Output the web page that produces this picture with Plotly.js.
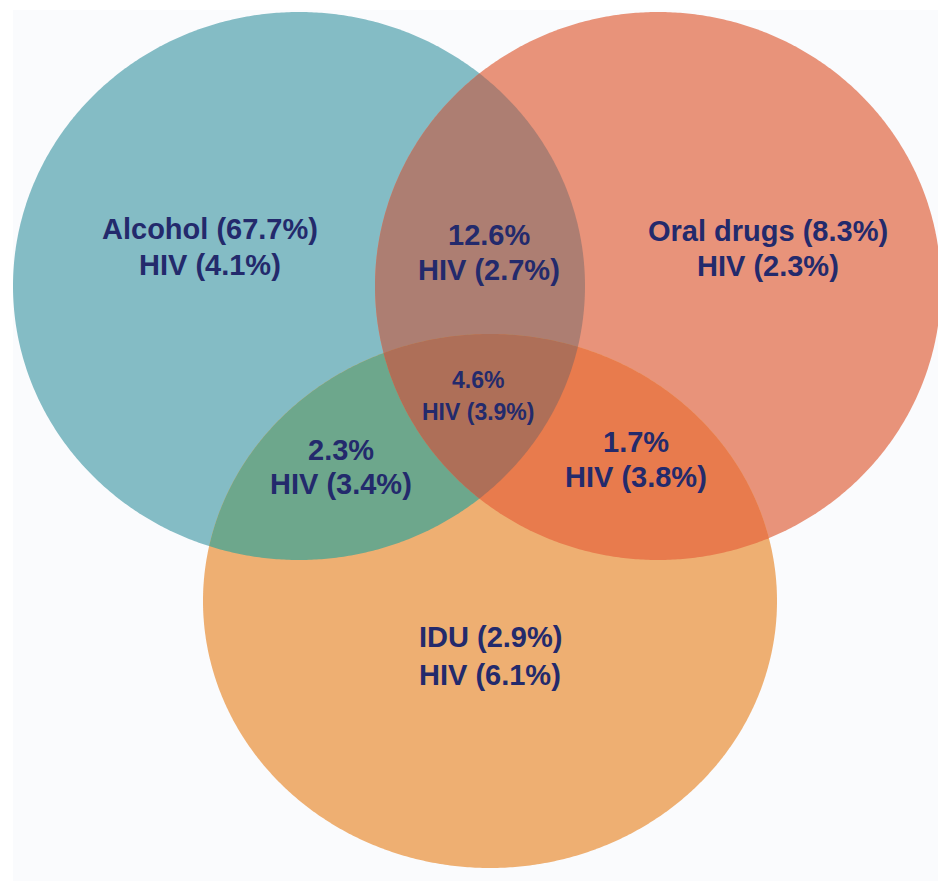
<!DOCTYPE html>
<html>
<head>
<meta charset="utf-8">
<script src="https://cdn.plot.ly/plotly-3.0.1.min.js"></script>
<style>html,body{margin:0;padding:0;background:#ffffff;}#chart{width:938px;height:881px;}</style>
</head>
<body>
<div id="chart"></div>
<script>
// ---- data ----
const regionKeys   = ['A', 'B', 'C', 'AB', 'AC', 'BC', 'ABC'];
const regionNames  = ['Alcohol', 'Oral drugs', 'IDU', '', '', '', ''];
const regionPct    = [67.7, 8.3, 2.9, 12.6, 2.3, 1.7, 4.6];
const regionHiv    = [4.1, 2.3, 6.1, 2.7, 3.4, 3.8, 3.9];

// ---- layout / style (pixel space) ----
const W = 938, H = 881;
const circles = {            // ellipse boxes: cx, cy, rx, ry
  A: [299, 286, 286, 274],
  B: [658, 286, 283, 274],
  C: [490, 601, 287, 267]
};
const fills = {
  A: '#84bcc5', B: '#e8937a', C: '#eeaf72',
  AB: '#ad7e72', AC: '#6da78c', BC: '#e87b4d', ABC: '#ae6f58'
};
const labelPos = {           // [x, y line1, y line2, font size]
  A:   [210, 229, 265, 29],
  B:   [768, 231, 266, 29],
  C:   [490, 637, 675, 29],
  AB:  [489, 235, 270, 29],
  AC:  [341, 450, 484, 29],
  BC:  [636, 442, 477, 29],
  ABC: [478, 380, 412, 23]
};
const textColor = '#232a6c';

function ellipsePoly(c, n) {
  const pts = [];
  for (let i = 0; i < n; i++) {
    const t = 2 * Math.PI * i / n;
    pts.push([c[0] + c[2] * Math.cos(t), c[1] + c[3] * Math.sin(t)]);
  }
  return pts;
}
function area(p) {
  let s = 0;
  for (let i = 0; i < p.length; i++) {
    const a = p[i], b = p[(i + 1) % p.length];
    s += a[0] * b[1] - b[0] * a[1];
  }
  return s / 2;
}
function clip(subject, clipper) {
  const sgn = Math.sign(area(clipper));
  let out = subject;
  for (let i = 0; i < clipper.length; i++) {
    const a = clipper[i], b = clipper[(i + 1) % clipper.length];
    const inside = p => sgn * ((b[0] - a[0]) * (p[1] - a[1]) - (b[1] - a[1]) * (p[0] - a[0])) >= 0;
    const inter = (p, q) => {
      const x1 = p[0], y1 = p[1], x2 = q[0], y2 = q[1];
      const x3 = a[0], y3 = a[1], x4 = b[0], y4 = b[1];
      const d = (x1 - x2) * (y3 - y4) - (y1 - y2) * (x3 - x4);
      const t = ((x1 - x3) * (y3 - y4) - (y1 - y3) * (x3 - x4)) / d;
      return [x1 + t * (x2 - x1), y1 + t * (y2 - y1)];
    };
    const input = out; out = [];
    if (!input.length) break;
    for (let j = 0; j < input.length; j++) {
      const cur = input[j], prev = input[(j + input.length - 1) % input.length];
      if (inside(cur)) {
        if (!inside(prev)) out.push(inter(prev, cur));
        out.push(cur);
      } else if (inside(prev)) {
        out.push(inter(prev, cur));
      }
    }
  }
  return out;
}
function toPath(p) {
  return 'M' + p.map(q => q[0].toFixed(2) + ',' + q[1].toFixed(2)).join('L') + 'Z';
}

const polys = {};
['A', 'B', 'C'].forEach(k => polys[k] = ellipsePoly(circles[k], 720));
polys.AB = clip(polys.A, polys.B);
polys.AC = clip(polys.A, polys.C);
polys.BC = clip(polys.B, polys.C);
polys.ABC = clip(polys.AB, polys.C);

const shapes = [{
  type: 'rect', xref: 'x', yref: 'y', x0: 13, x1: W, y0: 10, y1: H,
  fillcolor: '#fafbfd', line: {width: 0}, layer: 'below'
}];
regionKeys.forEach(k => {
  shapes.push({
    type: 'path', xref: 'x', yref: 'y', path: toPath(polys[k]),
    fillcolor: fills[k], line: {width: 0}, layer: 'above'
  });
});

const annotations = [];
regionKeys.forEach((k, i) => {
  const p = labelPos[k];
  const l1 = regionNames[i] ? regionNames[i] + ' (' + regionPct[i] + '%)' : regionPct[i] + '%';
  const l2 = 'HIV (' + regionHiv[i] + '%)';
  [[l1, p[1]], [l2, p[2]]].forEach(([t, y]) => {
    annotations.push({
      x: p[0], y: y, xref: 'x', yref: 'y', text: '<b>' + t + '</b>', showarrow: false,
      xanchor: 'center', yanchor: 'middle',
      font: {family: 'Liberation Sans, Arial, sans-serif', size: p[3], color: textColor}
    });
  });
});

Plotly.newPlot('chart', [{x: [], y: [], type: 'scatter', hoverinfo: 'skip', showlegend: false}], {
  width: W, height: H,
  margin: {l: 0, r: 0, t: 0, b: 0, pad: 0},
  paper_bgcolor: '#ffffff', plot_bgcolor: 'rgba(0,0,0,0)',
  xaxis: {range: [0, W], visible: false, fixedrange: true},
  yaxis: {range: [H, 0], visible: false, fixedrange: true},
  shapes: shapes, annotations: annotations, showlegend: false
}, {displayModeBar: false, staticPlot: true});
</script>
</body>
</html>
